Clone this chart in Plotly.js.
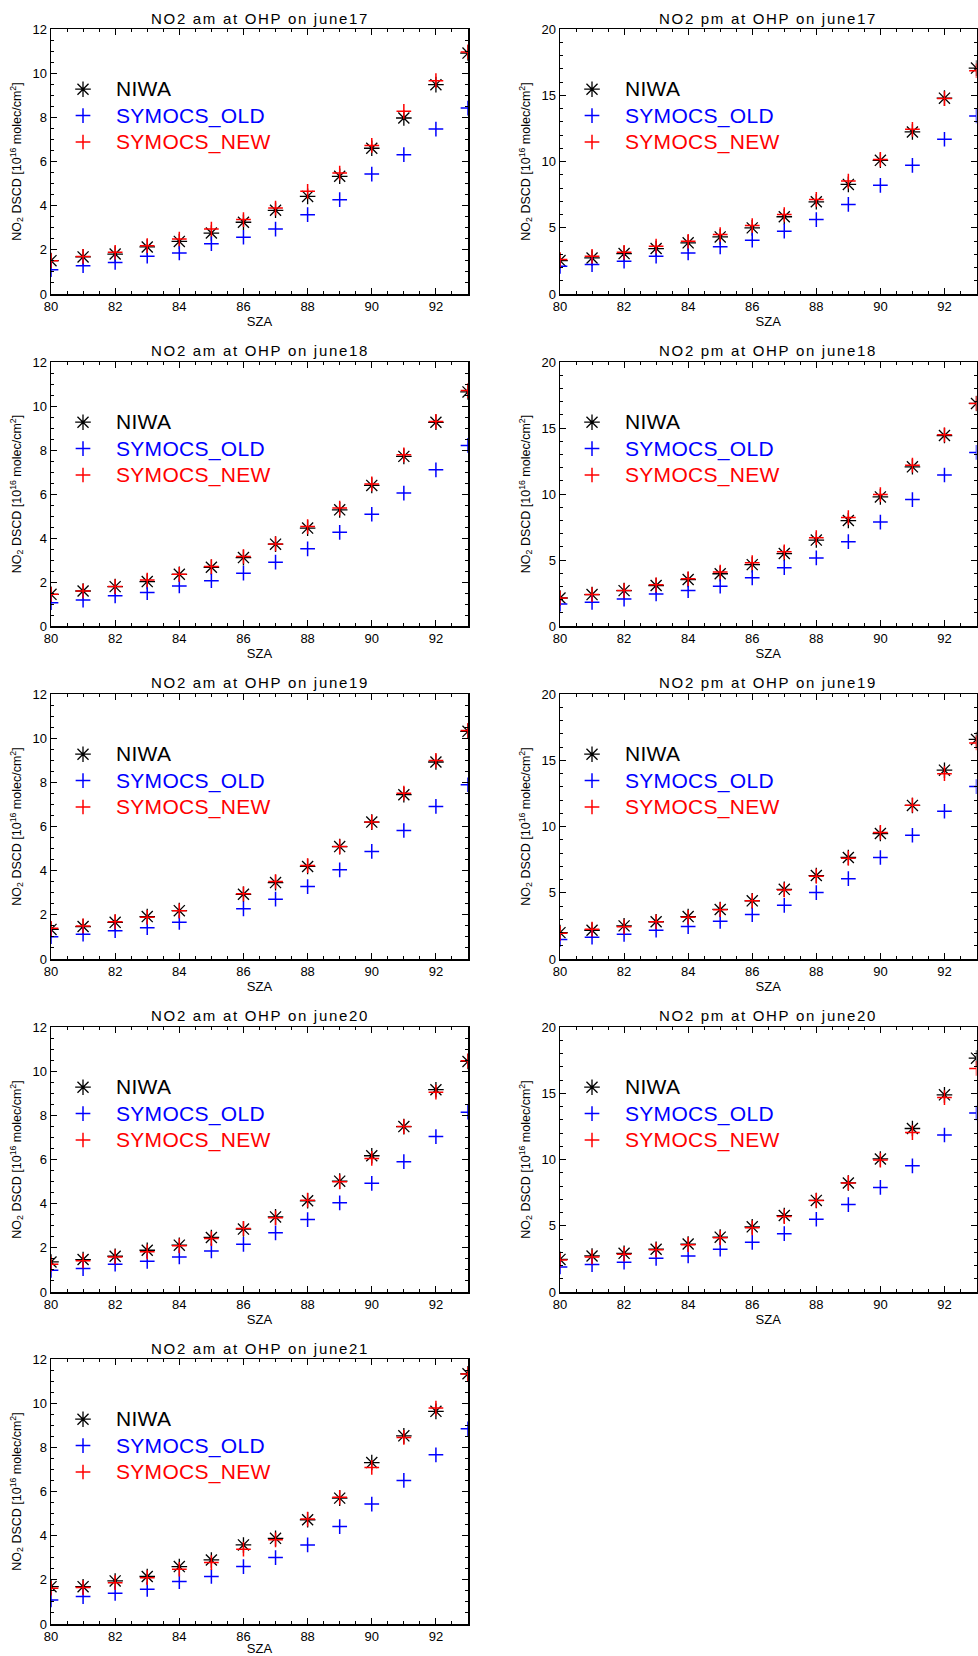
<!DOCTYPE html>
<html>
<head>
<meta charset="utf-8">
<script src="https://cdn.plot.ly/plotly-3.0.1.min.js"></script>
<style>html,body{margin:0;padding:0;background:#fff;}#chart{width:978px;height:1656px;}</style>
</head>
<body>
<div id="chart"></div>
<script>
// ---------------- DATA ----------------
const sza = [80, 81, 82, 83, 84, 85, 86, 87, 88, 89, 90, 91, 92, 93];

const panelTitles = [
  'NO2 am at OHP on june17', 'NO2 pm at OHP on june17',
  'NO2 am at OHP on june18', 'NO2 pm at OHP on june18',
  'NO2 am at OHP on june19', 'NO2 pm at OHP on june19',
  'NO2 am at OHP on june20', 'NO2 pm at OHP on june20',
  'NO2 am at OHP on june21'
];

const seriesNames = ['NIWA', 'SYMOCS_OLD', 'SYMOCS_NEW'];

// june 17 am
const niwaAm17 = [1.51, 1.68, 1.81, 2.13, 2.38, 2.76, 3.25, 3.79, 4.42, 5.33, 6.60, 7.97, 9.48, 10.91];
const oldAm17  = [1.10, 1.28, 1.43, 1.71, 1.86, 2.28, 2.57, 2.94, 3.59, 4.27, 5.43, 6.31, 7.47, 8.42];
const newAm17  = [1.51, 1.70, 1.89, 2.19, 2.49, 2.94, 3.37, 3.89, 4.65, 5.48, 6.73, 8.27, 9.66, 10.96];
// june 17 pm
const niwaPm17 = [2.52, 2.72, 3.05, 3.43, 3.86, 4.31, 4.99, 5.83, 6.96, 8.27, 10.09, 12.23, 14.78, 17.05];
const oldPm17  = [2.09, 2.22, 2.47, 2.85, 3.10, 3.56, 4.06, 4.74, 5.62, 6.76, 8.20, 9.71, 11.68, 13.44];
const newPm17  = [2.60, 2.85, 3.15, 3.61, 3.98, 4.49, 5.17, 6.00, 7.14, 8.52, 10.16, 12.43, 14.75, 16.85];
// june 18 am
const niwaAm18 = [1.44, 1.59, 1.79, 2.02, 2.35, 2.67, 3.11, 3.72, 4.45, 5.28, 6.39, 7.71, 9.26, 10.64];
const oldAm18  = [1.06, 1.18, 1.37, 1.52, 1.82, 2.06, 2.40, 2.90, 3.51, 4.26, 5.08, 6.04, 7.10, 8.21];
const newAm18  = [1.44, 1.59, 1.79, 2.09, 2.35, 2.70, 3.16, 3.73, 4.52, 5.36, 6.46, 7.78, 9.30, 10.70];
// june 18 pm
const niwaPm18 = [2.12, 2.38, 2.68, 3.07, 3.52, 3.96, 4.65, 5.49, 6.51, 7.99, 9.78, 12.06, 14.43, 16.86];
const oldPm18  = [1.66, 1.79, 2.04, 2.43, 2.68, 3.01, 3.65, 4.42, 5.16, 6.39, 7.87, 9.58, 11.44, 13.15];
const newPm18  = [2.12, 2.38, 2.68, 3.12, 3.58, 4.09, 4.80, 5.62, 6.69, 8.22, 9.96, 12.18, 14.48, 16.86];
// june 19 am (no measurement at 85)
const niwaAm19 = [1.34, 1.47, 1.66, 1.92, 2.19, null, 2.93, 3.46, 4.19, 5.09, 6.20, 7.44, 8.92, 10.31];
const oldAm19  = [1.01, 1.12, 1.28, 1.42, 1.66, null, 2.27, 2.71, 3.28, 4.04, 4.87, 5.82, 6.91, 7.89];
const newAm19  = [1.39, 1.50, 1.69, 1.89, 2.18, null, 2.95, 3.51, 4.23, 5.09, 6.20, 7.51, 8.99, 10.35];
// june 19 pm
const niwaPm19 = [1.99, 2.17, 2.50, 2.81, 3.20, 3.74, 4.39, 5.26, 6.30, 7.66, 9.47, 11.59, 14.25, 16.57];
const oldPm19  = [1.47, 1.65, 1.86, 2.17, 2.45, 2.84, 3.35, 4.05, 5.01, 6.06, 7.66, 9.34, 11.15, 13.01];
const newPm19  = [1.94, 2.25, 2.43, 2.81, 3.15, 3.72, 4.39, 5.21, 6.25, 7.61, 9.55, 11.61, 13.99, 16.31];
// june 20 am
const niwaAm20 = [1.36, 1.47, 1.62, 1.89, 2.12, 2.47, 2.85, 3.40, 4.13, 5.02, 6.17, 7.49, 9.16, 10.44];
const oldAm20  = [0.98, 1.06, 1.26, 1.39, 1.59, 1.86, 2.16, 2.68, 3.28, 4.04, 4.92, 5.90, 7.04, 8.14];
const newAm20  = [1.26, 1.41, 1.59, 1.82, 2.09, 2.42, 2.88, 3.36, 4.16, 4.99, 6.05, 7.49, 9.05, 10.47];
// june 20 pm
const niwaPm20 = [2.46, 2.72, 2.92, 3.23, 3.62, 4.14, 4.92, 5.77, 6.91, 8.23, 10.04, 12.34, 14.88, 17.65];
const oldPm20  = [1.89, 2.07, 2.25, 2.54, 2.72, 3.23, 3.75, 4.40, 5.49, 6.60, 7.89, 9.52, 11.85, 13.51];
const newPm20  = [2.41, 2.64, 2.85, 3.18, 3.57, 4.09, 4.84, 5.69, 6.91, 8.23, 9.96, 12.03, 14.67, 16.87];
// june 21 am
const niwaAm21 = [1.69, 1.69, 1.95, 2.15, 2.60, 2.90, 3.58, 3.88, 4.72, 5.70, 7.31, 8.52, 9.63, 11.33];
const oldAm21  = [1.09, 1.24, 1.39, 1.57, 1.92, 2.15, 2.60, 3.01, 3.58, 4.41, 5.43, 6.50, 7.66, 8.84];
const newAm21  = [1.62, 1.65, 1.87, 2.10, 2.48, 2.78, 3.39, 3.81, 4.75, 5.74, 7.09, 8.45, 9.78, 11.32];

const panelData = [
  [niwaAm17, oldAm17, newAm17], [niwaPm17, oldPm17, newPm17],
  [niwaAm18, oldAm18, newAm18], [niwaPm18, oldPm18, newPm18],
  [niwaAm19, oldAm19, newAm19], [niwaPm19, oldPm19, newPm19],
  [niwaAm20, oldAm20, newAm20], [niwaPm20, oldPm20, newPm20],
  [niwaAm21, oldAm21, newAm21]
];
const yMaxAm = 12, yMaxPm = 20;

// ---------------- STYLE / LAYOUT ----------------
const W = 978, H = 1656;
const FONT = 'Liberation Sans, Arial, sans-serif';
const colPx = [[51, 468], [560, 976.5]];
const rowPx = [[29, 294], [362, 626], [694, 959], [1027, 1292], [1359, 1624]];
const seriesStyle = [
  {symbol: 'asterisk-open', size: 13, lw: 1.3, color: 'black'},
  {symbol: 'cross-thin-open', size: 10.5, lw: 1.5, color: 'rgb(0,0,255)'},
  {symbol: 'cross-thin-open', size: 10.5, lw: 1.5, color: 'rgb(255,0,0)'}
];

const traces = [];
const layout = {
  width: W, height: H,
  margin: {l: 0, r: 0, t: 0, b: 0, pad: 0},
  paper_bgcolor: 'white', plot_bgcolor: 'white',
  font: {family: FONT, color: 'black', size: 13},
  annotations: [],
  showlegend: true
};

panelData.forEach((series, p) => {
  const row = Math.floor(p / 2), col = p % 2;
  const sfx = p === 0 ? '' : String(p + 1);
  const xr = colPx[col], yr = rowPx[row];
  const isPm = col === 1;
  const legendId = 'legend' + sfx;

  series.forEach((vals, s) => {
    const st = seriesStyle[s];
    traces.push({
      type: 'scatter', mode: 'markers',
      x: sza, y: vals,
      xaxis: 'x' + sfx, yaxis: 'y' + sfx,
      name: '<span style="color:' + st.color + ';font-size:21px;letter-spacing:0.3px">' + seriesNames[s] + '</span>',
      legend: legendId,
      marker: {symbol: st.symbol, size: st.size, color: st.color,
               line: {color: st.color, width: st.lw}},
      hoverinfo: 'x+y'
    });
  });

  const axCommon = {
    showline: true, linecolor: 'black', linewidth: 1.5, mirror: 'ticks',
    ticks: 'inside', ticklen: 6, tickwidth: 1, tickcolor: 'black',
    showgrid: false, zeroline: false,
    tickfont: {size: 13, family: FONT}, automargin: false, fixedrange: true
  };

  layout['xaxis' + sfx] = Object.assign({}, axCommon, {
    domain: [xr[0] / W, xr[1] / W],
    anchor: 'y' + sfx,
    range: [80, 93], tick0: 80, dtick: 2,
    minor: {dtick: 0.5, ticks: 'inside', ticklen: 3, tickwidth: 1, tickcolor: 'black', showgrid: false},
    title: {text: 'SZA', font: {size: 13, family: FONT}, standoff: 2}
  });
  const yMax = isPm ? yMaxPm : yMaxAm;
  layout['yaxis' + sfx] = Object.assign({}, axCommon, {
    domain: [1 - yr[1] / H, 1 - yr[0] / H],
    anchor: 'x' + sfx,
    range: [0, yMax], tick0: 0, dtick: isPm ? 5 : 2,
    minor: {dtick: isPm ? 1 : 0.5, ticks: 'inside', ticklen: 3, tickwidth: 1, tickcolor: 'black', showgrid: false},
    title: {text: 'NO<sub>2</sub> DSCD [10<sup>16</sup> molec/cm<sup>2</sup>]',
            font: {size: 12.5, family: FONT}, standoff: 8}
  });

  layout[legendId] = {
    x: (xr[0] - 1) / W, y: 1 - (yr[0] + 42) / H,
    xref: 'paper', yref: 'paper', xanchor: 'left', yanchor: 'top',
    bgcolor: 'rgba(0,0,0,0)', borderwidth: 0,
    font: {size: 18, family: FONT},
    itemwidth: 56, tracegroupgap: 0,
    itemclick: false, itemdoubleclick: false
  };

  layout.annotations.push({
    text: '<span style="letter-spacing:1.7px">' + panelTitles[p] + '</span>', showarrow: false,
    xref: 'paper', yref: 'paper',
    x: (xr[0] + xr[1]) / 2 / W, y: 1 - (yr[0] - 11) / H,
    xanchor: 'center', yanchor: 'middle',
    font: {size: 15, family: FONT, color: 'black'}
  });
});

Plotly.newPlot('chart', traces, layout, {staticPlot: true, displayModeBar: false});
</script>
</body>
</html>
